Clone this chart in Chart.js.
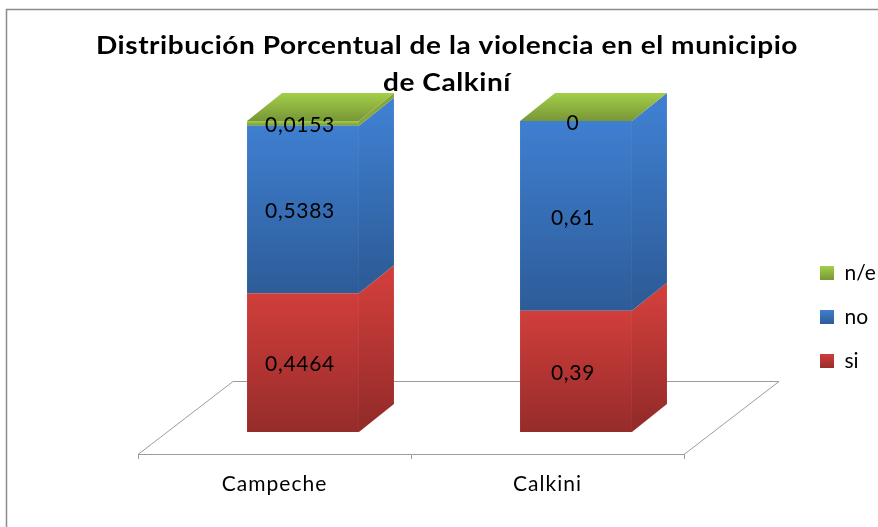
<!DOCTYPE html>
<html><head><meta charset="utf-8">
<style>html,body{margin:0;padding:0;background:#fff}canvas{display:block}</style>
<script src="https://cdn.jsdelivr.net/npm/chart.js@4"></script></head>
<body><canvas id="c" width="878" height="527"></canvas>
<script>
const categories = ['Campeche', 'Calkini'];
const si = [0.4464, 0.39];
const no = [0.5383, 0.61];
const ne = [0.0153, 0];
const titleLines = ['Distribución Porcentual de la violencia en el municipio', 'de Calkiní'];
const FONT = 'Lato, Carlito, Calibri, sans-serif';
const depth = {x: 35, y: -28};
const shift = {x: 28.5, y: -22};
const floorDepth = {x: 95, y: -73};
const palette = {
  si: {top: '#d03e3b', bottom: '#962c2a'},
  no: {top: '#3f7fd0', bottom: '#2d5c98'},
  ne: {top: '#a3cf49', bottom: '#789637'}
};
const sideFills = {ne: '#86a63c'};
const seriesKeys = ['si', 'no', 'ne'];
const lineColor = '#9c9c9c';
function grad(ctx, y0, y1, c) {
  const g = ctx.createLinearGradient(0, y0, 0, y1);
  g.addColorStop(0, c.top); g.addColorStop(1, c.bottom);
  return g;
}
function faceFill(key) {
  return (context) => {
    const chart = context.chart, i = context.dataIndex, di = context.datasetIndex;
    if (i === undefined || !chart.scales.y) return palette[key].top;
    let low = 0;
    for (let k = 0; k < di; k++) low += chart.data.datasets[k].data[i];
    const high = low + chart.data.datasets[di].data[i];
    return grad(chart.ctx, chart.scales.y.getPixelForValue(high), chart.scales.y.getPixelForValue(low), palette[key]);
  };
}
const bars3d = {
  id: 'bars3d',
  beforeDraw(chart) {
    const c = chart.ctx;
    c.letterSpacing = '1px';
    c.save();
    c.strokeStyle = '#8c8c8c'; c.lineWidth = 1.5;
    c.strokeRect(6.5, 9.5, 900, 540);
    c.restore();
    if (!chart.$wrapped) {
      chart.$wrapped = true;
      const t = chart.titleBlock, drawT = t.draw;
      t.draw = function () {
        c.save(); c.translate(447, 0); c.scale(1.12, 1); c.translate(-439, 0); c.letterSpacing = '0.5px';
        drawT.call(this); c.restore();
      };
      const l = chart.legend, drawL = l.draw;
      l.draw = function () {
        const hb = this.legendHitBoxes;
        this.legendItems.forEach((it, i) => {
          const y0 = hb[i].top + (hb[i].height - 14) / 2;
          it.fillStyle = grad(c, y0, y0 + 14, palette[seriesKeys[it.datasetIndex]]);
        });
        c.save(); c.translate(820 - hb[0].left, 317 - (hb[0].top + hb[hb.length - 1].top + hb[0].height) / 2);
        c.letterSpacing = '0px';
        drawL.call(this); c.restore();
      };
    }
  },
  beforeDatasetsDraw(chart) {
    const c = chart.ctx, a = chart.chartArea;
    c.save();
    c.strokeStyle = lineColor; c.lineWidth = 1;
    c.beginPath();
    c.moveTo(a.left, a.bottom + .5);
    c.lineTo(a.left + floorDepth.x, a.bottom + floorDepth.y + .5);
    c.lineTo(a.right + floorDepth.x, a.bottom + floorDepth.y + .5);
    c.lineTo(a.right, a.bottom + .5);
    c.stroke();
    c.restore();
    c.save();
    c.translate(shift.x, shift.y);
    chart.data.datasets.forEach((ds, di) => {
      chart.getDatasetMeta(di).data.forEach((el) => {
        const r = el.x + el.width / 2, key = seriesKeys[di];
        const yTop = Math.min(el.y, el.base), yBot = Math.max(el.y, el.base);
        c.fillStyle = sideFills[key] || grad(c, yTop + depth.y * 0.5, yBot + depth.y * 0.5, palette[key]);
        c.beginPath();
        c.moveTo(r, yBot); c.lineTo(r + depth.x, yBot + depth.y);
        c.lineTo(r + depth.x, yTop + depth.y); c.lineTo(r, yTop);
        c.closePath(); c.fill();
        if (di === chart.data.datasets.length - 1) {
          const l = el.x - el.width / 2;
          c.fillStyle = grad(c, yTop + depth.y, yTop, palette.ne);
          c.beginPath();
          c.moveTo(l, yTop); c.lineTo(l + depth.x, yTop + depth.y);
          c.lineTo(r + depth.x, yTop + depth.y); c.lineTo(r, yTop);
          c.closePath(); c.fill();
        }
      });
    });
  },
  afterDatasetsDraw(chart) {
    const c = chart.ctx;
    c.font = '21px ' + FONT;
    c.letterSpacing = '0.7px';
    c.fillStyle = '#000'; c.textAlign = 'center'; c.textBaseline = 'middle';
    chart.data.datasets.forEach((ds, di) => {
      chart.getDatasetMeta(di).data.forEach((el, i) => {
        c.fillText(String(ds.data[i]).replace('.', ','), el.x - 3, (el.y + el.base) / 2 + 2);
      });
    });
    c.restore();
  }
};
const hiddenAxis = (position, width) => ({
  type: 'linear', position, display: true,
  ticks: {display: false}, grid: {display: false}, border: {display: false},
  afterFit: (s) => { s.width = width(s); }
});
new Chart(document.getElementById('c'), {
  type: 'bar',
  data: {
    labels: categories,
    datasets: [
      {label: 'si', data: si, backgroundColor: faceFill('si')},
      {label: 'no', data: no, backgroundColor: faceFill('no')},
      {label: 'n/e', data: ne, backgroundColor: faceFill('ne')}
    ]
  },
  plugins: [bars3d],
  options: {
    responsive: false, animation: false,
    barPercentage: 0.41, categoryPercentage: 1,
    layout: {padding: 0},
    plugins: {
      title: {display: true, text: titleLines, color: '#000', font: {family: FONT, size: 25, weight: 'bold', lineHeight: 1.48}, padding: {top: 27.5, bottom: 41.5}},
      legend: {
        position: 'right', reverse: true,
        labels: {
          boxWidth: 14, boxHeight: 14, padding: 23, color: '#000',
          font: {family: FONT, size: 21},
          generateLabels(chart) {
            return chart.data.datasets.map((d, i) => ({text: d.label, fillStyle: palette[seriesKeys[i]].top, strokeStyle: 'transparent', lineWidth: 0, datasetIndex: i}));
          }
        }
      },
      tooltip: {enabled: false}
    },
    scales: {
      x: {
        stacked: true,
        grid: {drawOnChartArea: false, drawTicks: true, tickLength: 5, color: lineColor, offset: true},
        border: {color: lineColor},
        ticks: {color: '#000', font: {family: FONT, size: 21}, padding: 13, maxRotation: 0},
        afterFit: (s) => { s.height = 73; }
      },
      y: Object.assign(hiddenAxis('left', () => 138), {stacked: true, min: 0, max: 1}),
      gap: hiddenAxis('right', (s) => 194 - (s.chart.legend ? s.chart.legend.width : 0))
    }
  }
});
</script></body></html>
